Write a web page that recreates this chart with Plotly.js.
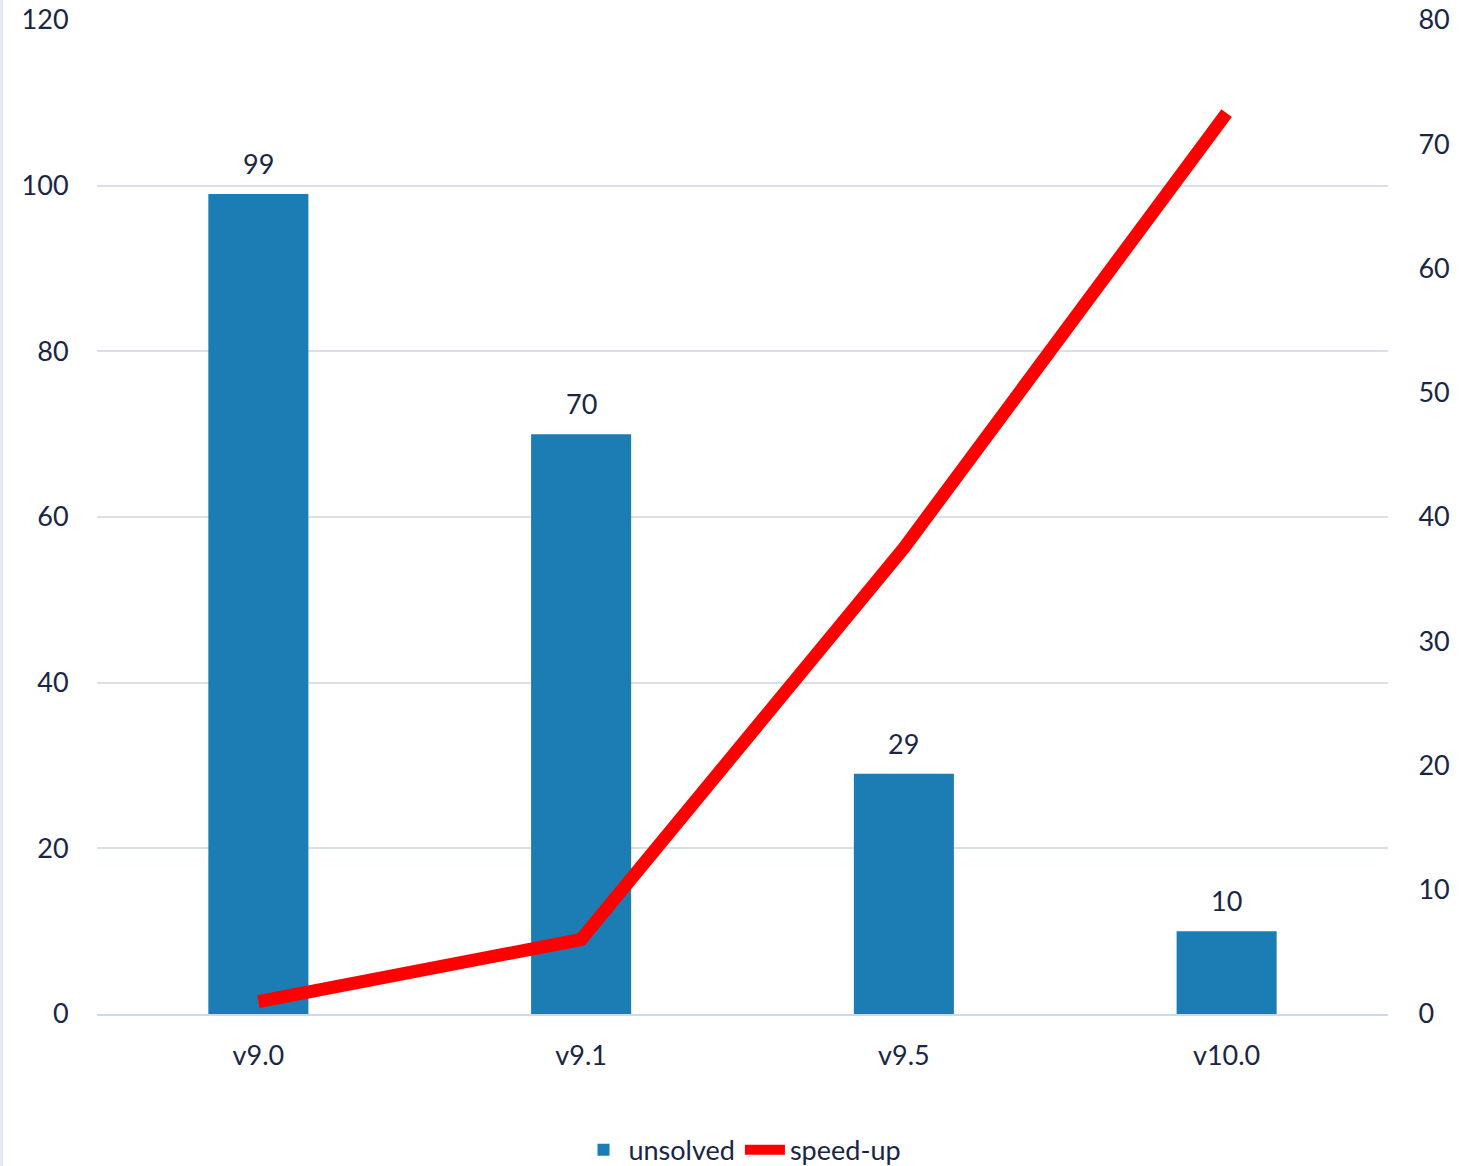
<!DOCTYPE html>
<html>
<head>
<meta charset="utf-8">
<script src="https://cdn.plot.ly/plotly-3.0.1.min.js"></script>
<style>
html,body{margin:0;padding:0;background:#fff;}
#chart{width:1471px;height:1166px;box-sizing:border-box;border-left:3px solid #e6ebf3;}
</style>
</head>
<body>
<div id="chart"></div>
<script>
var categories = ["v9.0", "v9.1", "v9.5", "v10.0"];
var unsolved = [99, 70, 29, 10];
var speedup = [1, 6, 37.5, 72.5];
var leftTicks = [0, 20, 40, 60, 80, 100, 120];
var rightTicks = [0, 10, 20, 30, 40, 50, 60, 70, 80];

var FONT = "Lato, 'Open Sans', sans-serif";
var TXT = "#1a2644";

var bars = {
  type: "bar", name: "unsolved", x: categories, y: unsolved,
  marker: {color: "#1c7db4"}, yaxis: "y", hoverinfo: "x+y"
};
var line = {
  type: "scatter", mode: "lines", name: "speed-up", x: categories, y: speedup,
  line: {color: "#ff0000", width: 13}, yaxis: "y2"
};

var annotations = categories.map(function(c, i){
  return {x: c, y: unsolved[i], xref: "x", yref: "y", text: String(unsolved[i]),
    showarrow: false, yanchor: "bottom", yshift: 12, font: {family: FONT, size: 27, color: TXT}};
});

var layout = {
  width: 1468, height: 1166,
  margin: {l: 94, r: 83, t: 20, b: 152, autoexpand: false},
  paper_bgcolor: "#fff", plot_bgcolor: "#fff",
  font: {family: FONT, size: 27, color: TXT},
  bargap: 0.69,
  showlegend: true,
  legend: {orientation: "h", x: 0.5, xanchor: "center", y: -0.137, yanchor: "middle",
    font: {family: FONT, size: 27, color: TXT}, itemwidth: 40},
  xaxis: {type: "category", range: [-0.5, 3.5], showgrid: false, zeroline: false,
    showline: true, linecolor: "#cbdaec", linewidth: 2,
    ticks: "outside", ticklen: 17, tickcolor: "rgba(0,0,0,0)",
    tickfont: {family: FONT, size: 27, color: TXT}},
  yaxis: {range: [0, 120], tickvals: leftTicks, showgrid: true, gridcolor: "#d9e0ea", gridwidth: 2,
    zeroline: false, showline: false,
    ticks: "outside", ticklen: 22, tickcolor: "rgba(0,0,0,0)",
    tickfont: {family: FONT, size: 27, color: TXT}},
  yaxis2: {range: [0, 80], tickvals: rightTicks, overlaying: "y", side: "right",
    showgrid: false, zeroline: false, showline: false,
    ticks: "outside", ticklen: 24, tickcolor: "rgba(0,0,0,0)",
    tickfont: {family: FONT, size: 27, color: TXT}},
  annotations: annotations
};

Plotly.newPlot("chart", [bars, line], layout, {displayModeBar: false, staticPlot: true});
</script>
</body>
</html>
